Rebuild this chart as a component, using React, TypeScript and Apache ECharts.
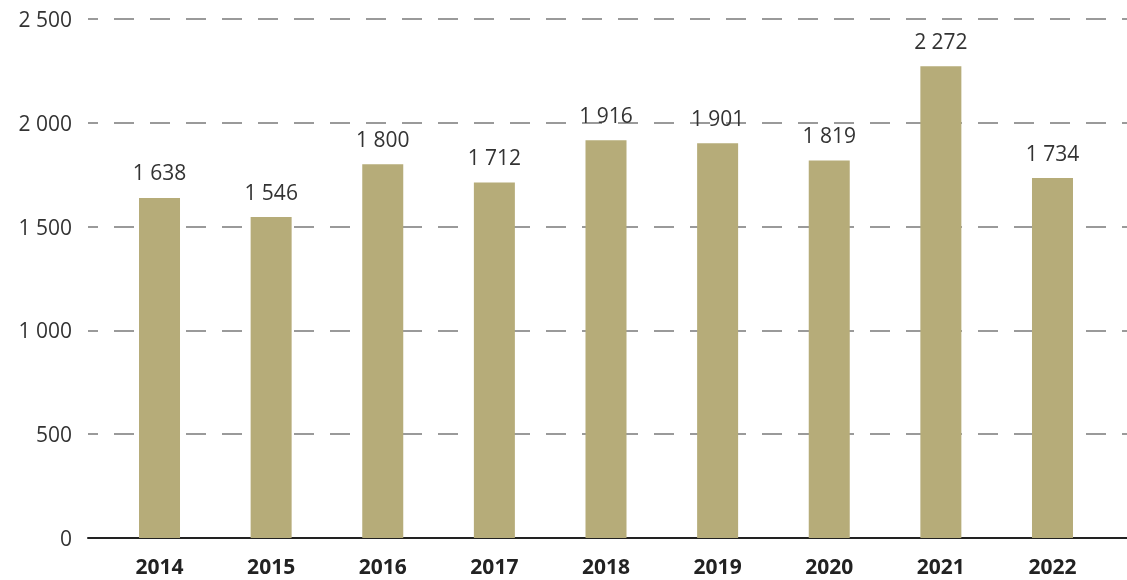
import React, { useEffect, useRef } from "react";
import * as echarts from "echarts";

const years = ["2014", "2015", "2016", "2017", "2018", "2019", "2020", "2021", "2022"];
const values = [1638, 1546, 1800, 1712, 1916, 1901, 1819, 2272, 1734];
const yTicks = [0, 500, 1000, 1500, 2000, 2500];

const fmt = (v: number) => String(v).replace(/\B(?=(\d{3})+(?!\d))/g, " ");

export default function App() {
  const ref = useRef<HTMLDivElement>(null);
  useEffect(() => {
    if (!ref.current) return;
    const chart = echarts.init(ref.current, null, { renderer: "svg" });
    const font = "'Open Sans', 'Noto Sans', sans-serif";
    chart.setOption({
      animation: false,
      grid: [
        { left: 103.7, right: 18.7, top: 19, bottom: 42 },
        { left: 88, right: 0, top: 19, bottom: 42 },
      ],
      xAxis: [
        {
          type: "category",
          gridIndex: 0,
          data: years,
          axisLine: { show: false },
          axisTick: { show: false },
          axisLabel: {
            margin: 20,
            lineHeight: 16,
            fontFamily: font,
            fontSize: 21,
            fontWeight: "bold",
            color: "#222",
          },
        },
        {
          type: "value",
          gridIndex: 1,
          min: 0,
          max: 1,
          axisLine: { show: true, lineStyle: { color: "#222", width: 2 } },
          axisTick: { show: false },
          axisLabel: { show: false },
          splitLine: { show: false },
        },
      ],
      yAxis: [
        {
          type: "value",
          gridIndex: 0,
          min: 0,
          max: 2500,
          interval: 500,
          axisLine: { show: false },
          axisTick: { show: false },
          axisLabel: { show: false },
          splitLine: { show: false },
        },
        {
          type: "value",
          gridIndex: 1,
          min: yTicks[0],
          max: yTicks[yTicks.length - 1],
          interval: 500,
          axisLine: { show: false },
          axisTick: { show: false },
          axisLabel: {
            margin: 16,
            fontFamily: font,
            fontSize: 21,
            color: "#333",
            formatter: (v: number) => fmt(v),
          },
          splitLine: {
            show: true,
            lineStyle: { color: "#9a9a9a", width: 2, type: [20, 16], dashOffset: 10 },
          },
        },
      ],
      series: [
        {
          type: "bar",
          xAxisIndex: 0,
          yAxisIndex: 0,
          data: values,
          barWidth: 41,
          itemStyle: { color: "#b6ac79" },
          z: 3,
          label: {
            show: true,
            position: "top",
            distance: 15,
            fontFamily: font,
            fontSize: 21,
            color: "#333",
            formatter: (p: any) => fmt(p.value),
          },
        },
      ],
    });
    return () => chart.dispose();
  }, []);
  return (
    <div
      ref={ref}
      style={{ position: "fixed", left: 0, top: 0, width: 1127, height: 580 }}
    />
  );
}
